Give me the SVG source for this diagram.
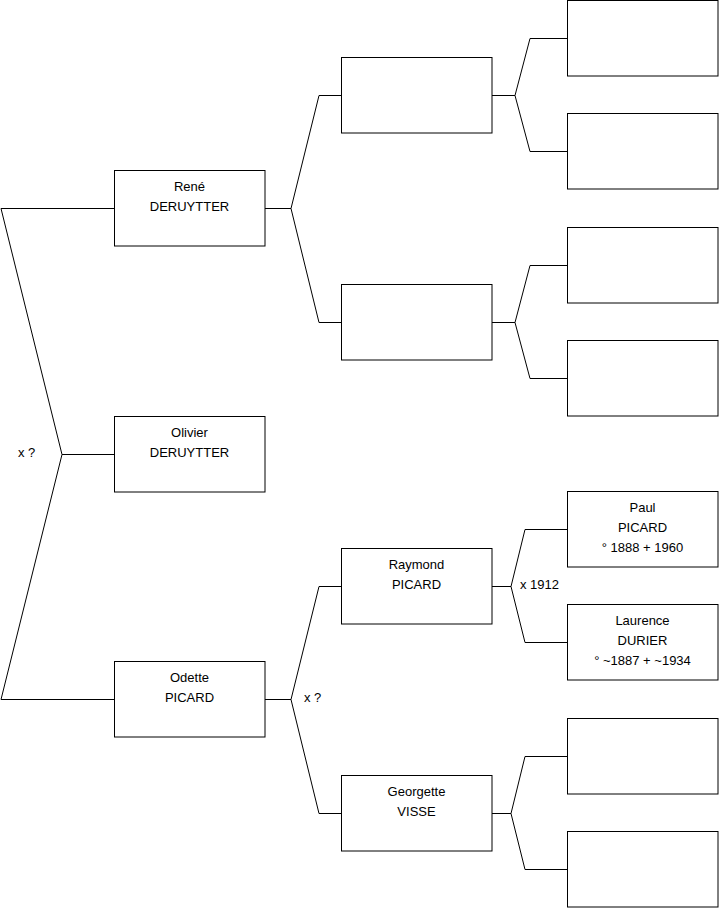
<svg xmlns="http://www.w3.org/2000/svg" width="719" height="908" viewBox="0 0 719 908">
<style>
.box{fill:#fff;stroke:#000;stroke-width:1}
.ln{fill:none;stroke:#000;stroke-width:1}
text{font-family:"Liberation Sans",Arial,sans-serif;font-size:13px;fill:#000}
.c{text-anchor:middle}
</style>
<rect width="719" height="908" fill="#fff"/>
<g id="connectors">
<polyline class="ln" points="114,208.5 1,208.5 62,454.5 1,699.5 114,699.5"/>
<line class="ln" x1="62" y1="454.5" x2="114" y2="454.5"/>
<line class="ln" x1="265" y1="208.5" x2="291" y2="208.5"/>
<polyline class="ln" points="341,95.5 319,95.5 291,208.5 319,322.5 341,322.5"/>
<line class="ln" x1="265" y1="699.5" x2="291" y2="699.5"/>
<polyline class="ln" points="341,586.5 319,586.5 291,699.5 319,813.5 341,813.5"/>
<line class="ln" x1="492" y1="95.5" x2="515" y2="95.5"/>
<polyline class="ln" points="567,38.5 530,38.5 515,95.5 530,151.5 567,151.5"/>
<line class="ln" x1="492" y1="322.5" x2="515" y2="322.5"/>
<polyline class="ln" points="567,265.5 530,265.5 515,322.5 530,378.5 567,378.5"/>
<line class="ln" x1="492" y1="586.5" x2="511" y2="586.5"/>
<polyline class="ln" points="567,529.5 525,529.5 511,586.5 525,642.5 567,642.5"/>
<line class="ln" x1="492" y1="813.5" x2="511" y2="813.5"/>
<polyline class="ln" points="567,756.5 525,756.5 511,813.5 525,869.5 567,869.5"/>
<text x="18" y="456.5">x ?</text>
<text x="304" y="702">x ?</text>
<text x="520" y="588.5">x 1912</text>
</g>
<g id="rene"><rect class="box" x="114.5" y="170.5" width="150.5" height="75.5"/><text class="c" x="189.5" y="191">René</text><text class="c" x="189.5" y="211">DERUYTTER</text></g>
<g id="olivier"><rect class="box" x="114.5" y="416.5" width="150.5" height="75.5"/><text class="c" x="189.5" y="437">Olivier</text><text class="c" x="189.5" y="457">DERUYTTER</text></g>
<g id="odette"><rect class="box" x="114.5" y="661.5" width="150.5" height="75.5"/><text class="c" x="189.5" y="682">Odette</text><text class="c" x="189.5" y="702">PICARD</text></g>
<g id="g2a"><rect class="box" x="341.5" y="57.5" width="150.5" height="75.5"/></g>
<g id="g2b"><rect class="box" x="341.5" y="284.5" width="150.5" height="75.5"/></g>
<g id="raymond"><rect class="box" x="341.5" y="548.5" width="150.5" height="75.5"/><text class="c" x="416.5" y="569">Raymond</text><text class="c" x="416.5" y="589">PICARD</text></g>
<g id="georgette"><rect class="box" x="341.5" y="775.5" width="150.5" height="75.5"/><text class="c" x="416.5" y="796">Georgette</text><text class="c" x="416.5" y="816">VISSE</text></g>
<g id="g3a"><rect class="box" x="567.5" y="0.5" width="150.5" height="75.5"/></g>
<g id="g3b"><rect class="box" x="567.5" y="113.5" width="150.5" height="75.5"/></g>
<g id="g3c"><rect class="box" x="567.5" y="227.5" width="150.5" height="75.5"/></g>
<g id="g3d"><rect class="box" x="567.5" y="340.5" width="150.5" height="75.5"/></g>
<g id="paul"><rect class="box" x="567.5" y="491.5" width="150.5" height="75.5"/><text class="c" x="642.5" y="512">Paul</text><text class="c" x="642.5" y="532">PICARD</text><text class="c" x="642.5" y="552">° 1888 + 1960</text></g>
<g id="laurence"><rect class="box" x="567.5" y="604.5" width="150.5" height="75.5"/><text class="c" x="642.5" y="625">Laurence</text><text class="c" x="642.5" y="645">DURIER</text><text class="c" x="642.5" y="665">° ~1887 + ~1934</text></g>
<g id="g3g"><rect class="box" x="567.5" y="718.5" width="150.5" height="75.5"/></g>
<g id="g3h"><rect class="box" x="567.5" y="831.5" width="150.5" height="75.5"/></g>
</svg>
